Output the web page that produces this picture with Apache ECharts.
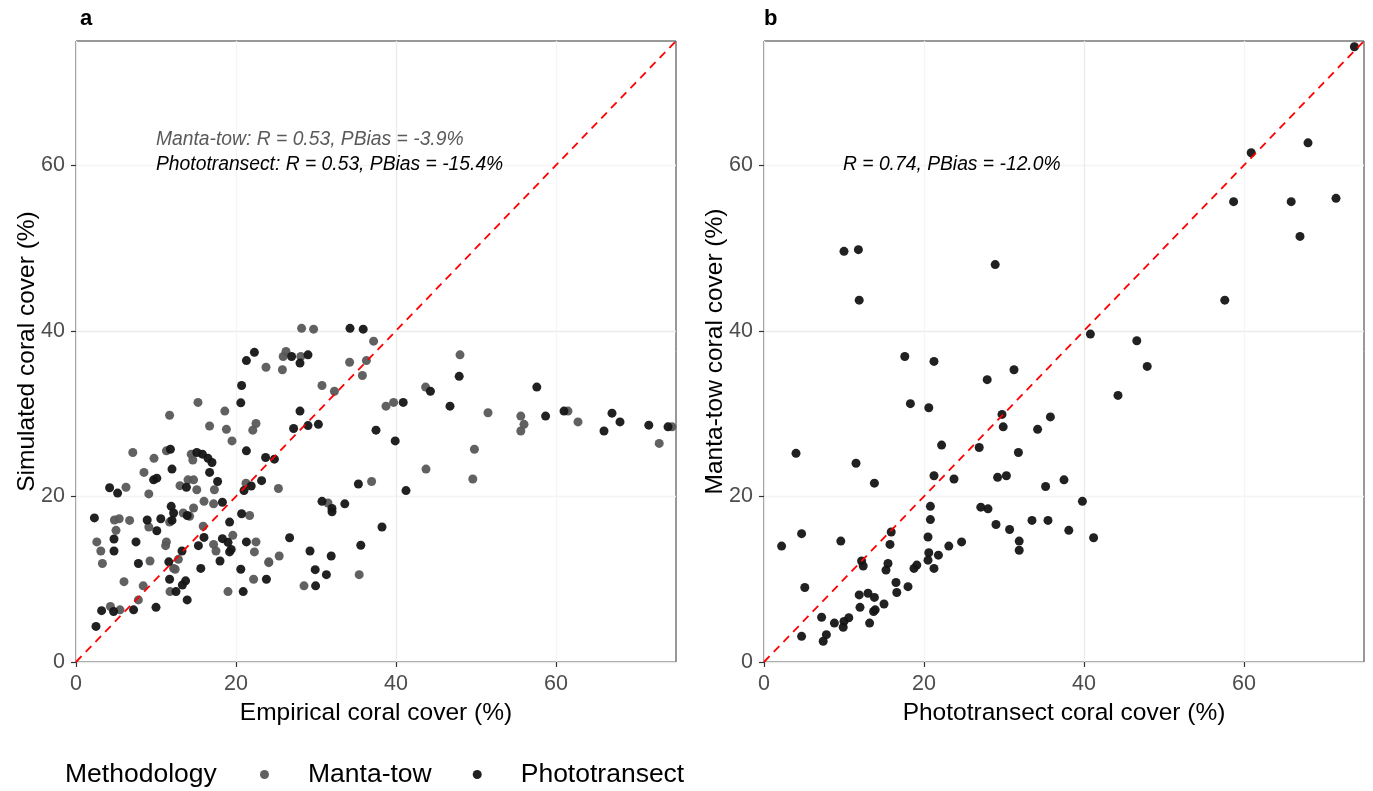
<!DOCTYPE html>
<html>
<head>
<meta charset="utf-8">
<script src="https://cdn.jsdelivr.net/npm/echarts@6/dist/echarts.min.js"></script>
<style>
  html, body { margin: 0; padding: 0; background: #ffffff; }
  #chart { width: 1373px; height: 791px; }
</style>
</head>
<body>
<div id="chart"></div>
<script>
// Axis ticks shared by both panels (coral cover, %)
const axisMax = 75;
const tickValues = [0, 20, 40, 60];

// Panel a: simulated vs empirical coral cover, [empirical, simulated]
const mantaTow = [
  [23.75,35.6],[15.25,31.35],[18.6,30.3],[11.7,29.8],[16.7,28.5],[18.8,28.1],[22.5,28.8],[22.1,28.0],
  [19.5,26.7],[11.3,25.5],[7.1,25.3],[9.75,24.6],[14.4,25.1],[14.6,24.4],[8.5,22.9],[14.0,22.0],
  [14.7,22.0],[13.0,21.3],[15.1,20.8],[17.3,20.8],[6.25,21.1],[9.1,20.3],[21.25,21.6],[25.3,20.95],
  [16.0,19.4],[17.2,19.1],[21.7,17.7],[19.6,15.3],[17.2,14.2],[17.5,13.4],[22.5,14.5],[22.3,13.3],
  [24.1,12.0],[22.2,10.0],[19.0,8.5],[15.9,16.4],[12.8,12.4],[12.2,11.3],[12.4,11.2],[11.3,14.5],
  [11.2,14.05],[11.75,8.5],[13.4,18.0],[14.2,17.6],[14.7,18.6],[11.7,16.9],[9.1,16.3],[4.8,17.15],
  [5.4,17.3],[6.7,17.1],[5.0,15.9],[2.6,14.5],[3.1,13.4],[3.3,11.9],[9.25,12.2],[6.0,9.7],
  [8.4,9.2],[7.8,7.5],[4.3,6.7],[5.5,6.3],
  [28.2,40.3],[29.7,40.2],[37.2,38.75],[26.25,37.5],[25.9,36.9],[28.1,36.9],[25.8,35.3],[34.2,36.2],
  [36.3,36.4],[35.8,34.6],[30.75,33.4],[32.3,32.7],[43.7,33.2],[38.75,30.9],[39.7,31.35],[36.95,21.8],
  [43.75,23.3],[31.5,19.2],[25.4,12.8],[24.1,12.1],[35.4,10.55],[28.5,9.2],
  [48.0,37.1],[51.5,30.1],[55.6,29.7],[56.0,28.7],[55.6,27.9],[61.5,30.3],[62.75,29.0],[74.5,28.4],
  [72.9,26.4],[49.8,25.7],[49.6,22.1]
];

const phototransect = [
  [22.3,37.4],[21.3,36.4],[20.7,33.4],[20.6,31.3],[21.3,25.5],[23.7,24.7],[11.8,25.7],[12.0,23.3],
  [15.1,25.3],[15.8,25.1],[16.5,24.6],[17.0,24.1],[16.7,22.9],[9.7,22.0],[10.1,22.2],[17.7,21.8],
  [13.8,21.1],[4.2,21.05],[5.2,20.4],[23.2,21.9],[21.9,21.25],[21.0,20.7],[24.8,24.5],
  [18.3,19.3],[20.7,17.9],[19.2,16.9],[18.3,14.9],[19.0,14.45],[19.4,13.6],[19.2,13.3],[18.0,12.2],
  [21.3,14.5],[20.6,11.2],[23.8,10.0],[20.9,8.5],[16.0,15.05],[15.3,14.05],[15.6,11.3],[13.25,13.4],
  [11.6,12.1],[11.7,10.0],[13.7,9.8],[13.3,9.3],[12.5,8.5],[13.9,7.5],[11.9,18.8],[12.2,18.0],
  [12.0,17.1],[13.9,17.7],[10.6,17.3],[8.9,17.15],[10.1,15.85],[2.3,17.4],[4.75,14.85],[4.75,13.4],
  [7.5,14.5],[7.8,11.9],[7.2,6.3],[10.0,6.6],[3.2,6.2],[4.7,6.1],[2.5,4.3],
  [34.25,40.3],[35.9,40.2],[26.95,36.9],[29.0,37.1],[28.0,36.1],[44.3,32.7],[47.9,34.5],[40.9,31.35],
  [46.75,30.9],[28.0,30.3],[27.2,28.2],[29.0,28.55],[30.3,28.7],[37.5,28.0],[39.9,26.7],[35.3,21.5],
  [41.25,20.7],
  [30.75,19.4],[32.0,18.55],[32.0,18.15],[33.6,19.1],[38.25,16.3],[26.7,15.0],[29.25,13.4],[31.9,12.8],
  [35.6,14.1],[29.9,11.15],[31.3,10.55],[29.95,9.2],
  [57.6,33.2],[58.7,29.7],[61.0,30.3],[66.0,27.9],[67.0,30.05],[68.0,29.0],[71.6,28.6],[74.0,28.4]
];

// Panel b: manta-tow vs phototransect coral cover, [phototransect, manta-tow]
const pairedSurveys = [
  [73.8,74.3],[60.9,61.5],[68.0,62.7],[58.7,55.6],[65.9,55.6],[71.5,56.0],[67.0,51.4],[57.6,43.7],
  [10.0,49.6],[11.8,49.8],[11.9,43.7],[28.9,48.0],
  [17.6,36.9],[21.25,36.3],[18.3,31.2],[20.6,30.7],[4.0,25.2],[22.2,26.2],[11.5,24.0],[13.8,21.6],
  [21.25,22.5],[23.75,22.1],
  [20.8,18.8],[20.8,17.2],[15.9,15.7],[15.75,14.2],[20.5,15.1],[20.6,13.2],[21.8,12.9],[20.5,12.3],
  [21.25,11.3],[23.1,14.0],[24.7,14.5],[2.2,14.0],[4.7,15.5],[9.6,14.6],[12.2,12.2],[12.4,11.6],
  [15.5,11.9],[15.25,11.1],[18.75,11.3],[19.1,11.7],[16.5,9.6],[16.6,8.4],[18.0,9.1],[5.1,9.0],
  [11.9,8.1],[13.0,8.3],[13.8,7.8],[12.0,6.6],[13.7,6.1],[13.9,6.3],[15.0,7.0],[13.2,4.7],
  [7.2,5.4],[8.8,4.7],[10.0,4.9],[10.6,5.35],[9.9,4.2],[4.7,3.1],[7.8,3.3],[7.4,2.5],
  [40.8,39.6],[46.6,38.8],[47.9,35.7],[31.25,35.3],[27.9,34.1],[44.25,32.2],[29.75,29.9],[29.9,28.4],
  [35.8,29.6],[34.2,28.1],[26.9,25.9],[31.8,25.3],[29.2,22.3],[30.3,22.5],[35.2,21.2],[37.5,22.0],
  [39.8,19.4],[27.1,18.7],[28.0,18.5],[29.0,16.6],[30.7,16.0],[33.5,17.1],[35.5,17.1],[38.1,15.9],
  [41.2,15.0],[31.9,14.6],[31.9,13.5]
];

// 1:1 reference line end points
const identityLine = [[0, 0], [75, 75]];

const FONT = 'Liberation Sans, Arial, sans-serif';
const GREY_PT = '#595959';
const BLACK_PT = '#151515';

function valueAxis(gridIndex, name, isY) {
  return {
    type: 'value',
    gridIndex: gridIndex,
    min: 0,
    max: axisMax,
    interval: 10,
    name: name,
    nameLocation: 'middle',
    nameGap: isY ? 36 : 39,
    nameMoveOverlap: false,
    nameTextStyle: { color: '#000', fontSize: 24.5, fontFamily: FONT },
    axisLine: { show: false },
    axisTick: { show: true, length: 5, customValues: tickValues, lineStyle: { color: '#333', width: 1.2 } },
    axisLabel: { customValues: tickValues, color: '#4d4d4d', fontSize: 21.5, fontFamily: FONT, margin: isY ? 11 : 11 },
    splitLine: { show: true, lineStyle: { color: ['#ebebeb', '#f4f4f4'], width: 1.3 } }
  };
}

const chart = echarts.init(document.getElementById('chart'), null, { renderer: 'canvas' });

chart.setOption({
  backgroundColor: '#ffffff',
  animation: false,
  title: [
    { text: 'a', left: 75, top: 3, textStyle: { fontSize: 22, fontWeight: 'bold', color: '#000', fontFamily: FONT } },
    { text: 'b', left: 759, top: 3, textStyle: { fontSize: 22, fontWeight: 'bold', color: '#000', fontFamily: FONT } }
  ],
  grid: [
    { left: 76, top: 41, width: 600, height: 621, show: true, borderColor: '#333', borderWidth: 1, backgroundColor: 'transparent' },
    { left: 764, top: 41, width: 600, height: 621, show: true, borderColor: '#333', borderWidth: 1, backgroundColor: 'transparent' }
  ],
  xAxis: [
    valueAxis(0, 'Empirical coral cover (%)', false),
    valueAxis(1, 'Phototransect coral cover (%)', false)
  ],
  yAxis: [
    valueAxis(0, 'Simulated coral cover (%)', true),
    valueAxis(1, 'Manta-tow coral cover (%)', true)
  ],
  legend: {
    left: 255,
    top: 756,
    itemWidth: 9,
    itemHeight: 9,
    itemGap: 41,
    icon: 'circle',
    data: ['Manta-tow', 'Phototransect'],
    textStyle: { fontSize: 26.5, color: '#000', fontFamily: FONT, padding: [0, 0, 0, 34] }
  },
  graphic: [
    { type: 'text', left: 65, top: 761, z: 100, style: { text: 'Methodology', fontSize: 26.5, fill: '#000', fontFamily: FONT } },
    { type: 'text', left: 156, top: 130, z: 100, style: { text: 'Manta-tow: R = 0.53, PBias = -3.9%', fontSize: 19.3, fontStyle: 'italic', fill: '#5a5a5a', fontFamily: FONT } },
    { type: 'text', left: 156, top: 155, z: 100, style: { text: 'Phototransect: R = 0.53, PBias = -15.4%', fontSize: 19.3, fontStyle: 'italic', fill: '#000', fontFamily: FONT } },
    { type: 'text', left: 843, top: 155, z: 100, style: { text: 'R = 0.74, PBias = -12.0%', fontSize: 19.3, fontStyle: 'italic', fill: '#000', fontFamily: FONT } }
  ],
  series: [
    {
      name: 'Manta-tow', type: 'scatter', xAxisIndex: 0, yAxisIndex: 0,
      data: mantaTow, symbolSize: 9, itemStyle: { color: GREY_PT, opacity: 0.95 }, z: 3
    },
    {
      name: 'Phototransect', type: 'scatter', xAxisIndex: 0, yAxisIndex: 0,
      data: phototransect, symbolSize: 9, itemStyle: { color: BLACK_PT, opacity: 0.95 }, z: 4
    },
    {
      name: 'Phototransect', type: 'scatter', xAxisIndex: 1, yAxisIndex: 1,
      data: pairedSurveys, symbolSize: 9, itemStyle: { color: BLACK_PT, opacity: 0.95 }, z: 4
    },
    {
      type: 'line', xAxisIndex: 0, yAxisIndex: 0, data: identityLine, symbol: 'none', silent: true,
      lineStyle: { color: '#ff0000', width: 1.8, type: [8, 6] }, z: 5
    },
    {
      type: 'line', xAxisIndex: 1, yAxisIndex: 1, data: identityLine, symbol: 'none', silent: true,
      lineStyle: { color: '#ff0000', width: 1.8, type: [8, 6] }, z: 5
    }
  ]
});
</script>
</body>
</html>
